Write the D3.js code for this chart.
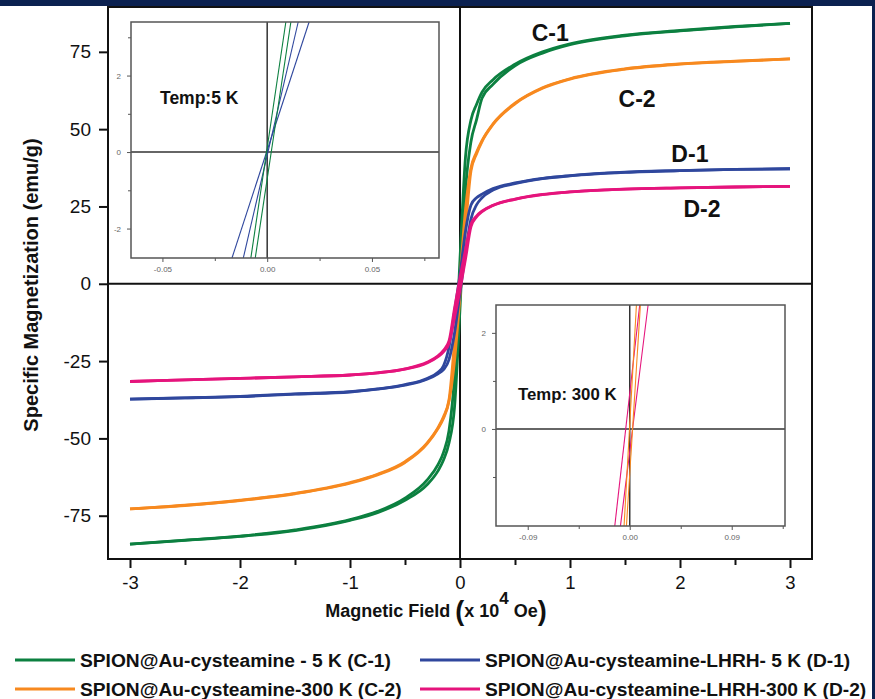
<!DOCTYPE html>
<html>
<head>
<meta charset="utf-8">
<script src="https://cdn.jsdelivr.net/npm/d3@7"></script>
<style>
  body { margin: 0; background: #fff; }
  svg { display: block; }
</style>
</head>
<body>
<div id="chart"></div>
<script>
// applied field (x 10^4 Oe)
const fieldGrid = [-3, -2.5, -2, -1.5, -1, -0.75, -0.5, -0.3, -0.2, -0.15, -0.1, -0.05, 0, 0.05, 0.1, 0.15, 0.2, 0.3, 0.5, 0.75, 1, 1.5, 2, 2.5, 3];

// specific magnetization (emu/g), two branches per loop
const c1Down = [-84.2, -82.9, -81.6, -79.6, -76.3, -73.6, -69.3, -63.5, -58.5, -54.5, -47.5, -30, 8, 41, 53, 58, 62, 66, 71, 75, 77.6, 80.4, 81.9, 83.2, 84.2];
const c1Up   = [-84.2, -83.0, -81.7, -79.8, -76.5, -74.0, -70.0, -65.0, -60.5, -57, -51.5, -40, -8, 30, 46, 53, 60, 64.5, 70.5, 74.6, 77.3, 80.2, 81.8, 83.1, 84.2];
const c2Down = [-72.8, -71.6, -70.0, -67.8, -64.3, -61.6, -57.5, -51.5, -46.5, -43, -37.5, -19, 2, 24, 37.5, 42.5, 46.3, 51.7, 58.4, 63.4, 66.3, 69.5, 71.1, 72.0, 72.7];
const c2Up   = [-72.8, -71.7, -70.1, -67.9, -64.5, -61.8, -57.8, -51.8, -46.8, -43.5, -38, -25, -4, 18, 36.5, 42, 46, 51.5, 58.2, 63.2, 66.2, 69.4, 71.0, 71.9, 72.7];
const d1Down = [-37.3, -36.9, -36.4, -35.6, -34.9, -34.0, -32.6, -30.6, -28.6, -26.5, -20.5, -9, 3, 17, 25.5, 27.8, 29, 30.8, 32.6, 34.1, 35.0, 36.1, 36.6, 37.0, 37.2];
const d1Up   = [-37.3, -36.9, -36.5, -35.7, -35.0, -34.1, -32.8, -30.9, -29.1, -27.8, -24.5, -16, -3, 10, 21, 25.5, 27.8, 30.3, 32.4, 34.0, 34.9, 36.0, 36.6, 37.0, 37.2];
const d2Down = [-31.6, -31.1, -30.6, -30.1, -29.5, -28.8, -27.5, -25.4, -23.3, -21.5, -18.5, -8, 2, 11, 19.3, 21.9, 23.5, 25.4, 27.4, 28.9, 29.7, 30.6, 31.0, 31.3, 31.5];
const d2Up   = [-31.6, -31.1, -30.6, -30.1, -29.5, -28.8, -27.6, -25.6, -23.6, -22, -19.3, -11, -2, 8, 18.5, 21.6, 23.3, 25.3, 27.3, 28.8, 29.7, 30.6, 31.0, 31.3, 31.5];

const xTicks = [-3, -2, -1, 0, 1, 2, 3];
const xMinorTicks = [-2.5, -1.5, -0.5, 0.5, 1.5, 2.5];
const yTicks = [-75, -50, -25, 0, 25, 50, 75];

// inset zooms near the origin: field at the bottom and top edge of each inset
const inset5kMoment = [-2.77, 3.4];
const inset5kC1 = [[-0.0078, 0.0089], [-0.0057, 0.0113]];
const inset5kD1 = [[-0.0168, 0.0200], [-0.0114, 0.0148]];
const inset300kMoment = [-2.02, 2.58];
const inset300kC2 = [[-0.0050, 0.0059], [-0.0029, 0.0094]];
const inset300kD2 = [[-0.0132, 0.0088], [-0.0082, 0.0162]];

const curveNames = ["C-1", "C-2", "D-1", "D-2"];
const legendNames = ["SPION@Au-cysteamine - 5 K (C-1)", "SPION@Au-cysteamine-300 K (C-2)",
                     "SPION@Au-cysteamine-LHRH- 5 K (D-1)", "SPION@Au-cysteamine-LHRH-300 K (D-2)"];
const labelSpots = [[0.82, 78.6], [1.61, 57.2], [2.09, 39.4], [2.2, 21.7]];

const colors = ["#0c8040", "#f7891f", "#2f479d", "#e5147c"];

const width = 875, height = 699;
const svg = d3.select("#chart").append("svg").attr("width", width).attr("height", height);

// dark slide frame
svg.append("rect").attr("x", 0).attr("y", 0).attr("width", width).attr("height", 6).attr("fill", "#0b2150");
svg.append("rect").attr("x", 872).attr("y", 0).attr("width", 3).attr("height", height).attr("fill", "#0b2150");

const x = d3.scaleLinear().domain([-3.2, 3.2]).range([108, 812]);
const y = d3.scaleLinear().domain([-89, 89.5]).range([559, 7]);

const font = "'Liberation Sans', Arial, sans-serif";
const plain = d => String(d); // hyphen minus like the original

// zero lines
svg.append("line").attr("x1", x(0)).attr("x2", x(0)).attr("y1", y.range()[1]).attr("y2", y.range()[0])
  .attr("stroke", "#111").attr("stroke-width", 2);
svg.append("line").attr("x1", x.range()[0]).attr("x2", x.range()[1]).attr("y1", y(0)).attr("y2", y(0))
  .attr("stroke", "#111").attr("stroke-width", 2);

// axes
const xAxis = svg.append("g").attr("transform", `translate(0,${y.range()[0]})`)
  .call(d3.axisBottom(x).tickValues(xTicks).tickFormat(plain).tickSize(9).tickPadding(8));
svg.append("g").attr("transform", `translate(0,${y.range()[0]})`)
  .call(d3.axisBottom(x).tickValues(xMinorTicks).tickFormat("").tickSize(6))
  .call(g => g.select(".domain").remove());
const yAxis = svg.append("g").attr("transform", `translate(${x.range()[0]},0)`)
  .call(d3.axisLeft(y).tickValues(yTicks).tickFormat(plain).tickSize(9).tickPadding(8));

svg.selectAll(".tick line").attr("stroke", "#111").attr("stroke-width", 2);
svg.selectAll(".domain").remove();
xAxis.selectAll("text").attr("font-size", 18.5).attr("font-family", font).attr("fill", "#111");
yAxis.selectAll("text").attr("font-size", 19).attr("font-family", font).attr("fill", "#111");

svg.append("rect").attr("x", x.range()[0]).attr("y", y.range()[1])
  .attr("width", x.range()[1] - x.range()[0]).attr("height", y.range()[0] - y.range()[1])
  .attr("fill", "none").attr("stroke", "#111").attr("stroke-width", 2);

// axis titles
svg.append("text").attr("transform", `translate(38,${(y.range()[0] + y.range()[1]) / 2 + 2}) rotate(-90)`)
  .attr("text-anchor", "middle").attr("font-family", font).attr("font-weight", "bold")
  .attr("font-size", 20).attr("fill", "#111").text("Specific Magnetization (emu/g)");

const xt = svg.append("text").attr("x", 436).attr("y", 617).attr("text-anchor", "middle")
  .attr("font-family", font).attr("font-weight", "bold").attr("font-size", 18).attr("fill", "#111");
xt.append("tspan").text("Magnetic Field ");
xt.append("tspan").attr("font-size", 27).attr("dy", 3).text("(");
xt.append("tspan").attr("dy", -3).text("x 10");
xt.append("tspan").attr("dy", -13).attr("font-size", 17).text("4");
xt.append("tspan").attr("dy", 13).text(" Oe");
xt.append("tspan").attr("font-size", 27).attr("dy", 3).text(")");

// main loops
const line = d3.line().x((d, i) => x(fieldGrid[i])).y(d => y(d)).curve(d3.curveMonotoneX);
const branches = [[c1Down, c1Up], [c2Down, c2Up], [d1Down, d1Up], [d2Down, d2Up]];
branches.forEach((pair, k) => {
  pair.forEach(b => {
    svg.append("path").attr("d", line(b)).attr("fill", "none")
      .attr("stroke", colors[k]).attr("stroke-width", 2.8).attr("stroke-linejoin", "round");
  });
});

curveNames.forEach((n, i) => {
  svg.append("text").attr("x", x(labelSpots[i][0])).attr("y", y(labelSpots[i][1]))
    .attr("text-anchor", "middle").attr("font-family", font).attr("font-weight", "bold")
    .attr("font-size", 23).attr("fill", "#111").text(n);
});

// inset helper
function drawInset(box, xDom, yDom, xMaj, xMin, yMaj, yMin, moment, sets, label, labelPos) {
  const ix = d3.scaleLinear().domain(xDom).range([box.x0, box.x1]);
  const iy = d3.scaleLinear().domain(yDom).range([box.y1, box.y0]);
  const g = svg.append("g");
  g.append("rect").attr("x", box.x0).attr("y", box.y0).attr("width", box.x1 - box.x0)
    .attr("height", box.y1 - box.y0).attr("fill", "#fff");

  g.append("g").attr("transform", `translate(0,${box.y1})`)
    .call(d3.axisBottom(ix).tickValues(xMaj).tickFormat(d => d.toFixed(2)).tickSize(4).tickPadding(4));
  g.append("g").attr("transform", `translate(0,${box.y1})`)
    .call(d3.axisBottom(ix).tickValues(xMin).tickFormat("").tickSize(3));
  g.append("g").attr("transform", `translate(${box.x0},0)`)
    .call(d3.axisLeft(iy).tickValues(yMaj).tickFormat(plain).tickSize(4).tickPadding(6));
  g.append("g").attr("transform", `translate(${box.x0},0)`)
    .call(d3.axisLeft(iy).tickValues(yMin).tickFormat("").tickSize(3));
  g.selectAll(".domain").remove();
  g.selectAll(".tick line").attr("stroke", "#555").attr("stroke-width", 1);
  g.selectAll(".tick text").attr("font-size", 8).attr("font-family", font).attr("fill", "#666");

  g.append("line").attr("x1", ix(0)).attr("x2", ix(0)).attr("y1", box.y0).attr("y2", box.y1)
    .attr("stroke", "#333").attr("stroke-width", 1.5);
  g.append("line").attr("x1", box.x0).attr("x2", box.x1).attr("y1", iy(0)).attr("y2", iy(0))
    .attr("stroke", "#333").attr("stroke-width", 1.5);

  sets.forEach(s => {
    s.pairs.forEach(p => {
      g.append("line").attr("x1", ix(p[0])).attr("y1", iy(moment[0]))
        .attr("x2", ix(p[1])).attr("y2", iy(moment[1]))
        .attr("stroke", s.color).attr("stroke-width", 1.1);
    });
  });

  g.append("rect").attr("x", box.x0).attr("y", box.y0).attr("width", box.x1 - box.x0)
    .attr("height", box.y1 - box.y0).attr("fill", "none").attr("stroke", "#555").attr("stroke-width", 1.5);

  g.append("text").attr("x", labelPos[0]).attr("y", labelPos[1]).attr("font-family", font)
    .attr("font-weight", "bold").attr("font-size", labelPos[2]).attr("fill", "#111").text(label);
}

drawInset({x0: 131, x1: 439, y0: 22, y1: 258}, [-0.065, 0.082], [-2.77, 3.4],
  [-0.05, 0, 0.05], [-0.025, 0.025, 0.075], [-2, 0, 2], [-1, 1, 3],
  inset5kMoment, [{pairs: inset5kD1, color: colors[2]}, {pairs: inset5kC1, color: colors[0]}],
  "Temp:5 K", [160, 104, 17.5]);

drawInset({x0: 496, x1: 785, y0: 305, y1: 526}, [-0.118, 0.137], [-2.02, 2.58],
  [-0.09, 0, 0.09], [-0.045, 0.045, 0.135], [0, 2], [-1, 1],
  inset300kMoment, [{pairs: inset300kD2, color: colors[3]}, {pairs: inset300kC2, color: colors[1]}],
  "Temp: 300 K", [518, 400, 16.8]);

// legend
const legendPos = [[15, 660], [15, 689], [420, 660], [420, 689]];
legendNames.forEach((n, i) => {
  const [lx, ly] = legendPos[i];
  svg.append("line").attr("x1", lx).attr("x2", lx + 60).attr("y1", ly).attr("y2", ly)
    .attr("stroke", colors[i]).attr("stroke-width", 3);
  svg.append("text").attr("x", lx + 65).attr("y", ly + 7).attr("font-family", font)
    .attr("font-weight", "bold").attr("font-size", 19.2).attr("fill", "#111").text(n);
});
</script>
</body>
</html>
